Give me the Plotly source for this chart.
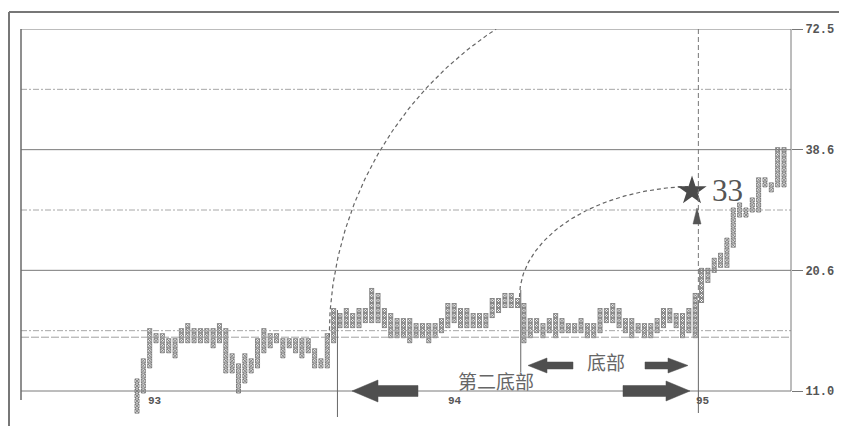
import numpy as np
import plotly.graph_objects as go

# ---------------- data (box indices) ----------------
# y is measured in boxes: 0 -> 11.0, 24 -> 20.6, 48 -> 38.6, 72 -> 72.5
y_tick_boxes = [0, 24, 48, 72]
y_tick_labels = ["11.0", "20.6", "38.6", "72.5"]
minor_grid_boxes = [12, 36, 60]
support_box = 10.7

year_labels = ["93", "94", "95"]
year_label_cols = [2.9, 50.1, 89.2]

# 1993 columns
low_93 = [-4, 0, 5, 10, 8, 8, 7, 10, 10, 10, 10, 10, 9, 10, 4, 4, 0, 2, 4, 5, 8, 9, 10, 7, 9, 8, 7, 8, 5, 5, 5, 10]
high_93 = [2, 6, 12, 11, 11, 10, 10, 12, 13, 12, 12, 12, 12, 13, 12, 7, 5, 7, 6, 10, 12, 11, 11, 10, 10, 10, 10, 10, 8, 6, 11, 16]
# 1994 columns, before the "底部" line
low_94a = [13, 13, 13, 13, 14, 14, 14, 13, 11, 11, 11, 10, 11, 11, 10, 11, 12, 13, 14, 13, 13, 13, 13, 13, 15, 16, 17, 17, 17]
high_94a = [15, 16, 15, 16, 16, 20, 19, 16, 15, 14, 14, 14, 13, 13, 13, 13, 14, 17, 17, 16, 16, 15, 15, 15, 18, 18, 19, 19, 18]
# 1994 columns, after the "底部" line
low_94b = [10, 11, 12, 11, 12, 11, 12, 12, 12, 12, 11, 11, 12, 14, 14, 13, 12, 11, 12, 11, 11, 12, 13, 14, 13, 11, 12, 11]
high_94b = [17, 14, 14, 13, 14, 15, 14, 13, 13, 14, 13, 13, 16, 16, 17, 16, 14, 14, 13, 13, 13, 14, 16, 16, 15, 15, 16, 19]
# 1995 columns
low_95 = [18, 22, 24, 25, 25, 29, 35, 35, 36, 36, 41, 40, 41, 41]
high_95 = [24, 24, 26, 27, 30, 36, 37, 36, 38, 42, 42, 41, 48, 48]

target_label = "33"
target_box = 39.8

col_low = low_93 + low_94a + low_94b + low_95
col_high = high_93 + high_94a + high_94b + high_95

div94 = len(low_93) - 0.5
div_base = len(low_93) + len(low_94a) - 0.5
div95 = len(low_93) + len(low_94a) + len(low_94b) - 0.5

# ---------------- geometry (page pixel coordinates) ----------------
OFF = 8  # page body margin
FIG_W, FIG_H = 847 - OFF, 426 - OFF
L, R, T, B = 21, 791, 29, 420
W, H = R - L, B - T
col_px = (784 - 137) / (len(col_low) - 1)
box_px = (391 - T) / 72.0
x_range = [(L - 137) / col_px, (R - 137) / col_px]
y_range = [72 - (B - T) / box_px, 72]


def pxx(p):
    return (p - L) / W


def pxy(p):
    return (B - p) / H


xs, ys = [], []
for i, (lo, hi) in enumerate(zip(col_low, col_high)):
    for b in range(lo, hi + 1):
        xs.append(i)
        ys.append(b)

fig = go.Figure()

grey = "#6a6a6a"

# arcs (count projections)
cx1, cy1, r1 = 88.3, support_box, 58.0
ry1 = r1 * col_px / box_px
t_end = np.pi - np.arcsin(min(1.0, (72 - cy1) / ry1))
th = np.linspace(np.pi, t_end, 120)
fig.add_trace(go.Scatter(x=cx1 + r1 * np.cos(th), y=cy1 + ry1 * np.sin(th), mode="lines",
                         line=dict(color="#666", width=1.2, dash="4px,3px"), hoverinfo="skip",
                         showlegend=False))
cx2, cy2 = 88.3, 18.7
rx2 = div95 - div_base
ry2 = 22.0
th2 = np.linspace(np.pi, np.pi / 2 + 0.05, 100)
fig.add_trace(go.Scatter(x=cx2 + rx2 * np.cos(th2), y=cy2 + ry2 * np.sin(th2), mode="lines",
                         line=dict(color="#666", width=1.2, dash="4px,3px"), hoverinfo="skip",
                         showlegend=False))

# P&F boxes
fig.add_trace(go.Scatter(x=xs, y=ys, mode="markers", cliponaxis=False,
                         marker=dict(symbol="square-x-open", size=4, color=grey,
                                     line=dict(width=0.8, color=grey)),
                         showlegend=False, hoverinfo="skip"))

# star target
fig.add_trace(go.Scatter(x=[87.5], y=[target_box], mode="markers",
                         marker=dict(symbol="star", size=22, color="#4a4a4a"),
                         showlegend=False, hoverinfo="skip"))

shapes = []
# horizontal grid lines
for b in y_tick_boxes:
    shapes.append(dict(type="line", xref="paper", yref="y", x0=0, x1=1, y0=b, y1=b,
                       line=dict(color="#7a7a7a", width=1)))
for b in minor_grid_boxes:
    shapes.append(dict(type="line", xref="paper", yref="y", x0=0, x1=1, y0=b, y1=b,
                       line=dict(color="#a8a8a8", width=1, dash="6px,2px,2px,2px")))
shapes.append(dict(type="line", xref="paper", yref="y", x0=0, x1=1, y0=support_box, y1=support_box,
                   line=dict(color="#a0a0a0", width=1, dash="8px,2px")))
# plot borders
shapes.append(dict(type="line", xref="paper", yref="paper", x0=0, x1=0, y0=pxy(400), y1=1,
                   line=dict(color="#6a6a6a", width=1.5)))
shapes.append(dict(type="line", xref="paper", yref="y", x0=1, x1=1, y0=0, y1=72,
                   line=dict(color="#7a7a7a", width=1)))
# outer frame
shapes.append(dict(type="line", xref="paper", yref="paper", x0=pxx(9), x1=pxx(847), y0=pxy(12), y1=pxy(12),
                   line=dict(color="#777", width=2)))
shapes.append(dict(type="line", xref="paper", yref="paper", x0=pxx(9), x1=pxx(9), y0=pxy(12), y1=pxy(426),
                   line=dict(color="#777", width=2)))
# vertical dividers
shapes.append(dict(type="line", xref="x", yref="paper", x0=div94 + 0.1, x1=div94 + 0.1, y0=pxy(310), y1=pxy(417),
                   line=dict(color="#666", width=1)))
shapes.append(dict(type="line", xref="x", yref="paper", x0=div_base, x1=div_base, y0=pxy(290), y1=pxy(372),
                   line=dict(color="#666", width=1)))
shapes.append(dict(type="line", xref="x", yref="paper", x0=div95, x1=div95, y0=pxy(300), y1=pxy(413),
                   line=dict(color="#666", width=1)))
shapes.append(dict(type="line", xref="x", yref="paper", x0=div95, x1=div95, y0=pxy(29), y1=pxy(300),
                   line=dict(color="#777", width=1, dash="5px,3px")))


def arrow_path(tip, tail, yc, head_len, head_h, shaft_h):
    d = 1 if tail > tip else -1
    hb = tip + d * head_len
    pts = [(tip, yc), (hb, yc - head_h), (hb, yc - shaft_h), (tail, yc - shaft_h),
           (tail, yc + shaft_h), (hb, yc + shaft_h), (hb, yc + head_h)]
    return "M " + " L ".join(f"{pxx(x):.5f},{pxy(y):.5f}" for x, y in pts) + " Z"


arrow_col = "#4f4f4f"
for tip, tail, yc, hl, hh, sh in [(352, 418, 391, 26, 11, 5.5), (690, 623, 391, 24, 10, 5.5),
                                  (528, 573, 365.5, 19, 7.5, 3.5), (688, 645, 365.5, 20, 7.5, 3.5)]:
    shapes.append(dict(type="path", xref="paper", yref="paper", path=arrow_path(tip, tail, yc, hl, hh, sh),
                       fillcolor=arrow_col, line=dict(color=arrow_col, width=0.5)))
# upward arrow head on the target line
shapes.append(dict(type="path", xref="paper", yref="paper",
                   path=f"M {pxx(697):.5f},{pxy(208):.5f} L {pxx(701):.5f},{pxy(224):.5f} L {pxx(693):.5f},{pxy(224):.5f} Z",
                   fillcolor="#555", line=dict(color="#555", width=0.5)))

annotations = []
for lab, c in zip(year_labels, year_label_cols):
    annotations.append(dict(x=c, y=pxy(409), xref="x", yref="paper", text=f"<b>{lab}</b>", showarrow=False,
                            font=dict(family="Liberation Mono", size=11, color="#555")))
annotations.append(dict(x=pxx(456), y=pxy(396), xref="paper", yref="paper", text="第二底部", showarrow=False,
                        xanchor="left", font=dict(family="Noto Sans CJK SC", size=19, color="#666")))
annotations.append(dict(x=pxx(585), y=pxy(377), xref="paper", yref="paper", text="底部", showarrow=False,
                        xanchor="left", font=dict(family="Noto Sans CJK SC", size=19, color="#666")))
annotations.append(dict(x=pxx(710), y=target_box, xref="paper", yref="y", text=target_label, showarrow=False,
                        xanchor="left", font=dict(family="Liberation Serif", size=31, color="#555")))

fig.update_layout(
    width=FIG_W, height=FIG_H,
    margin=dict(l=L - OFF, r=847 - R, t=T - OFF, b=426 - B),
    paper_bgcolor="white", plot_bgcolor="white",
    shapes=shapes, annotations=annotations,
    xaxis=dict(range=x_range, showgrid=False, zeroline=False, showticklabels=False, showline=False, ticks=""),
    yaxis=dict(range=y_range, side="right", showgrid=False, zeroline=False, showline=False,
               tickvals=y_tick_boxes, ticktext=[f"<b>{t}</b>" for t in y_tick_labels],
               ticks="outside", ticklen=11, tickcolor="#777", tickwidth=1,
               tickfont=dict(family="Liberation Mono", size=12, color="#555")),
)

fig.write_html("out.html")
